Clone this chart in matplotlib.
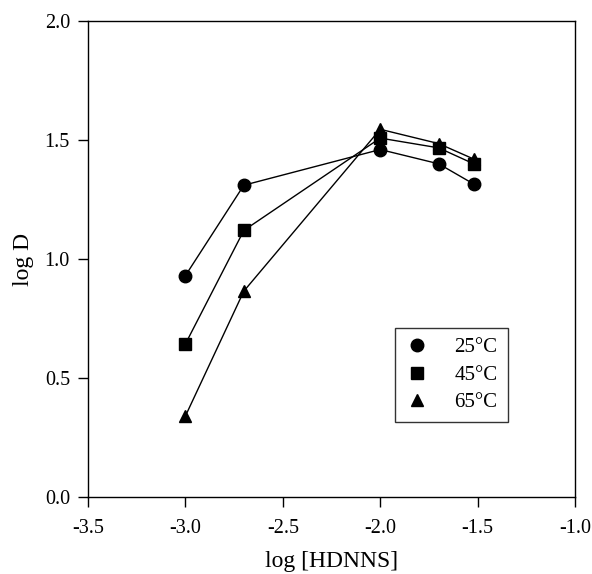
import numpy as np
import matplotlib.pyplot as plt
from matplotlib.lines import Line2D

plt.rcParams['font.family'] = ['Liberation Serif', 'DejaVu Serif']

# log of HDNNS concentration (0.001, 0.002, 0.01, 0.02, 0.03 M)
log_hdnns = [-3.0, -2.7, -2.0, -1.7, -1.52]
logD_25 = [0.93, 1.31, 1.46, 1.40, 1.315]
logD_45 = [0.643, 1.12, 1.508, 1.467, 1.40]
logD_65 = [0.34, 0.865, 1.545, 1.485, 1.42]
labels = ['25°C', '45°C', '65°C']

fig = plt.figure(figsize=(5.92, 5.74), dpi=100)
ax = fig.add_axes([88/592, 1 - 497/574, 487/592, 476/574])

series = [(logD_25, 'o', 9), (logD_45, 's', 8), (logD_65, '^', 9)]
for ys, m, ms in series:
    ax.plot(log_hdnns, ys, color='black', lw=1.0, marker=m, markersize=ms)

ax.set_xlim(-3.5, -1.0)
ax.set_ylim(0.0, 2.0)
ax.set_xticks(np.arange(-3.5, -0.99, 0.5))
ax.set_yticks(np.arange(0.0, 2.01, 0.5))
ax.xaxis.set_major_formatter(plt.FormatStrFormatter('%.1f'))
ax.yaxis.set_major_formatter(plt.FormatStrFormatter('%.1f'))
ax.tick_params(direction='out', length=7, width=1, labelsize=14.5, pad=6)
ax.tick_params(axis='x', pad=9)
for s in ax.spines.values():
    s.set_linewidth(1.0)

ax.set_xlabel('log [HDNNS]', fontsize=17, labelpad=9)
ax.set_ylabel('log D', fontsize=17, labelpad=8)

handles = [Line2D([], [], ls='none', marker=m, markersize=ms, color='black')
           for _, m, ms in series]
leg = ax.legend(handles, labels, loc='lower left', bbox_to_anchor=(0.63, 0.158, 0.232, 0.193),
                mode='expand', borderaxespad=0, fontsize=15, frameon=True, fancybox=False,
                edgecolor='black', handlelength=1.2, handletextpad=1.2,
                borderpad=0.45, labelspacing=0.38)
leg.get_frame().set_linewidth(1.0)

fig.savefig('out.png', dpi=100)
